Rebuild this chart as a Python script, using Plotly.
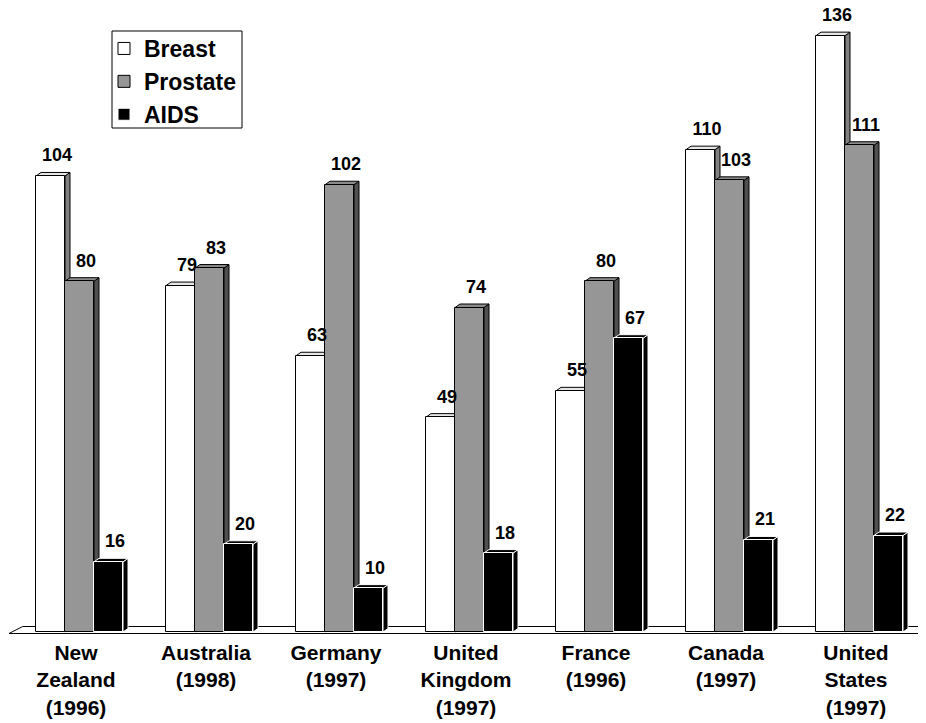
import plotly.graph_objects as go

countries = ["New<br>Zealand<br>(1996)", "Australia<br>(1998)", "Germany<br>(1997)",
             "United<br>Kingdom<br>(1997)", "France<br>(1996)", "Canada<br>(1997)",
             "United<br>States<br>(1997)"]
series_names = ["Breast", "Prostate", "AIDS"]
breast = [104, 79, 63, 49, 55, 110, 136]
prostate = [80, 83, 102, 74, 80, 103, 111]
aids = [16, 20, 10, 18, 67, 21, 22]

values = [breast, prostate, aids]
front_colors = ["#FFFFFF", "#969696", "#000000"]
side_colors = ["#808080", "#505050", "#000000"]
top_colors = ["#E6E6E6", "#8C8C8C", "#000000"]
edge_colors = ["#000000", "#000000", "#FFFFFF"]

# page is rendered with an 8px body offset
OFF = 8
W, H = 926 - OFF, 723 - OFF
plot_h = 638 - OFF                 # plot bottom, figure px
px_x = 130.0                       # px per category
px_y = 4.385                       # px per unit
c0 = 76 - OFF                      # first category centre, figure px
zero_px = 632 - OFF                # y=0 in figure px
x_range = [(0 - c0) / px_x, (W - c0) / px_x]
y_range = [-(plot_h - zero_px) / px_y, zero_px / px_y]

bw = 29.0 / px_x
off0 = -40.0 / px_x
dx = 5.0 / px_x
dy = 3.5 / px_y

xs = list(range(len(countries)))
fig = go.Figure()
shapes = []

# floor
fl_front = -1.5 / px_y
fl_back = 5.5 / px_y
shapes.append(dict(type="path", xref="x", yref="y", layer="below",
                   path=(f"M {(9-76)/px_x},{fl_front} L {(22.7-76)/px_x},{fl_back} "
                         f"L {(940-76)/px_x},{fl_back} L {(924-76)/px_x},{fl_front} Z"),
                   fillcolor="#FFFFFF", line=dict(color="#000000", width=1)))

for j, (name, vals) in enumerate(zip(series_names, values)):
    off = off0 + j * bw
    fig.add_trace(go.Bar(
        x=xs, y=vals, name=name, width=bw, offset=off,
        marker=dict(color=front_colors[j], line=dict(color=edge_colors[j], width=1)),
        hoverinfo="y",
    ))
    for i, v in zip(xs, vals):
        x0 = i + off
        x1 = x0 + bw
        shapes.append(dict(type="path", xref="x", yref="y", layer="below",
                           path=f"M {x1},0 L {x1+dx},{dy} L {x1+dx},{v+dy} L {x1},{v} Z",
                           fillcolor=side_colors[j], line=dict(color=edge_colors[j], width=1)))
        shapes.append(dict(type="path", xref="x", yref="y", layer="below",
                           path=f"M {x0},{v} L {x0+dx},{v+dy} L {x1+dx},{v+dy} L {x1},{v} Z",
                           fillcolor=top_colors[j], line=dict(color=edge_colors[j], width=1)))
    fig.add_trace(go.Scatter(
        x=[i + off + bw / 2 + 6.5 / px_x for i in xs],
        y=[v + 19 / px_y for v in vals],
        mode="text", text=[str(v) for v in vals], textposition="middle center",
        textfont=dict(family="Liberation Sans", size=18, color="#000000", weight="bold"),
        showlegend=False, hoverinfo="skip", cliponaxis=False,
    ))

# legend frame (reference px 112..242 x 31..128)
def px2paper_x(p):
    return (p - OFF) / W

def px2paper_y(p):
    return (plot_h - (p - OFF)) / plot_h

shapes.append(dict(type="rect", xref="paper", yref="paper", layer="above",
                   x0=px2paper_x(112), x1=px2paper_x(242),
                   y0=px2paper_y(128), y1=px2paper_y(31),
                   line=dict(color="#000000", width=1)))

fig.update_layout(
    template="none",
    width=W, height=H,
    margin=dict(l=0, r=0, t=0, b=H - plot_h, pad=0),
    plot_bgcolor="#FFFFFF", paper_bgcolor="#FFFFFF",
    shapes=shapes,
    font=dict(family="Liberation Sans", color="#000000"),
    xaxis=dict(range=x_range, tickvals=xs, ticktext=countries, showgrid=False,
               zeroline=False, showline=False, ticks="", automargin=False,
               tickfont=dict(family="Liberation Sans", size=21, color="#000000", weight="bold")),
    yaxis=dict(range=y_range, showgrid=False, zeroline=False, showline=False,
               showticklabels=False, ticks="", automargin=False),
    legend=dict(x=px2paper_x(104), y=px2paper_y(27), xanchor="left", yanchor="top",
                bgcolor="rgba(0,0,0,0)", borderwidth=0,
                font=dict(family="Liberation Sans", size=23, color="#000000", weight="bold"),
                itemwidth=30, tracegroupgap=0),
    showlegend=True,
    bargap=0, bargroupgap=0,
)

fig.write_html("out.html")
